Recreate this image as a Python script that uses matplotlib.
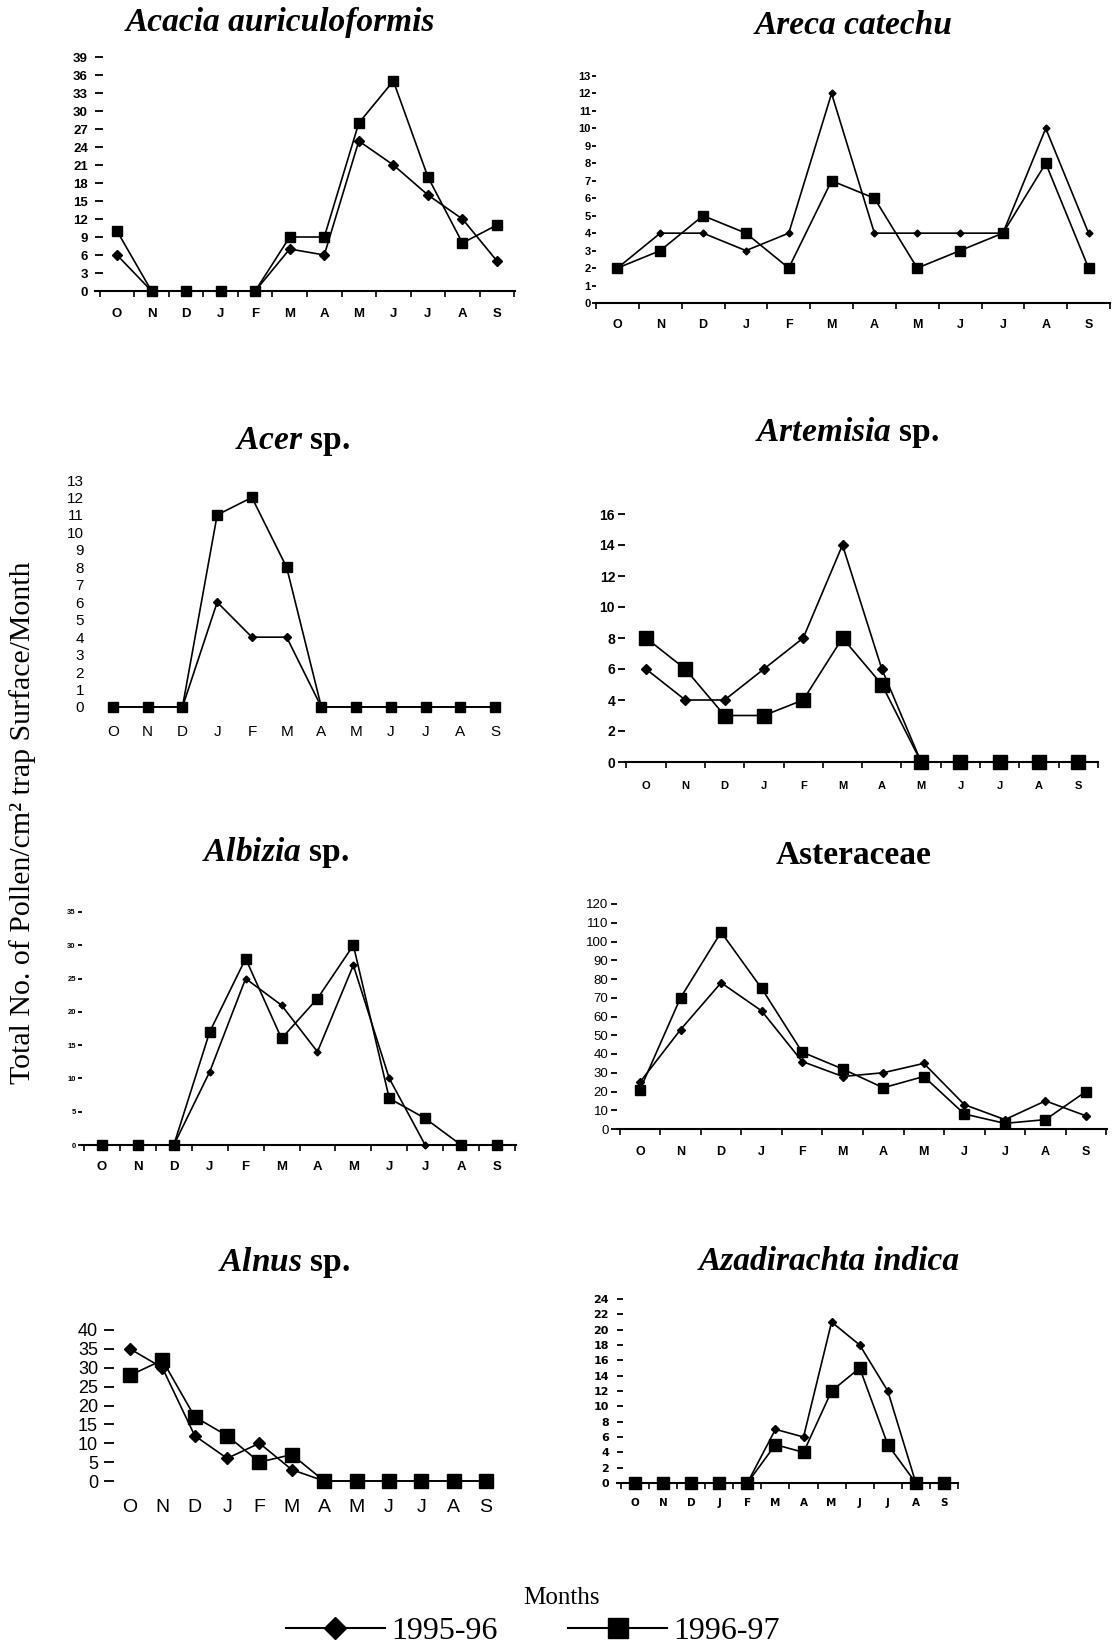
import matplotlib
matplotlib.use('Agg')
import matplotlib.pyplot as plt
from matplotlib.lines import Line2D
from matplotlib import font_manager

# canvas size in pixels (dpi 100)
W, H = 1119, 1650

MONTHS = ['O', 'N', 'D', 'J', 'F', 'M', 'A', 'M', 'J', 'J', 'A', 'S']

# pollen counts per month
ACACIA_9596 = [6, 0, 0, 0, 0, 7, 6, 25, 21, 16, 12, 5]
ACACIA_9697 = [10, 0, 0, 0, 0, 9, 9, 28, 35, 19, 8, 11]

ARECA_9596 = [2, 4, 4, 3, 4, 12, 4, 4, 4, 4, 10, 4]
ARECA_9697 = [2, 3, 5, 4, 2, 7, 6, 2, 3, 4, 8, 2]

ACER_9596 = [0, 0, 0, 6, 4, 4, 0, 0, 0, 0, 0, 0]
ACER_9697 = [0, 0, 0, 11, 12, 8, 0, 0, 0, 0, 0, 0]

ARTEMISIA_9596 = [6, 4, 4, 6, 8, 14, 6, 0, 0, 0, 0, 0]
ARTEMISIA_9697 = [8, 6, 3, 3, 4, 8, 5, 0, 0, 0, 0, 0]

ALBIZIA_9596 = [0, 0, 0, 11, 25, 21, 14, 27, 10, 0, 0, 0]
ALBIZIA_9697 = [0, 0, 0, 17, 28, 16, 22, 30, 7, 4, 0, 0]

ASTERACEAE_9596 = [25, 53, 78, 63, 36, 28, 30, 35, 13, 5, 15, 7]
ASTERACEAE_9697 = [21, 70, 105, 75, 41, 32, 22, 28, 8, 3, 5, 20]

ALNUS_9596 = [35, 30, 12, 6, 10, 3, 0, 0, 0, 0, 0, 0]
ALNUS_9697 = [28, 32, 17, 12, 5, 7, 0, 0, 0, 0, 0, 0]

AZADIRACHTA_9596 = [0, 0, 0, 0, 0, 7, 6, 21, 18, 12, 0, 0]
AZADIRACHTA_9697 = [0, 0, 0, 0, 0, 5, 4, 12, 15, 5, 0, 0]

ACACIA_YTICKS = list(range(0, 40, 3))
ARECA_YTICKS = list(range(0, 14))
ACER_YTICKS = list(range(0, 14))
ARTEMISIA_YTICKS = list(range(0, 17, 2))
ALBIZIA_YTICKS = list(range(0, 36, 5))
ASTERACEAE_YTICKS = list(range(0, 121, 10))
ALNUS_YTICKS = list(range(0, 41, 5))
AZADIRACHTA_YTICKS = list(range(0, 25, 2))

YEARS = ['1995-96', '1996-97']

names = {f.name for f in font_manager.fontManager.ttflist}
NARROW = 'Liberation Sans Narrow' if 'Liberation Sans Narrow' in names else 'Liberation Sans'
SERIF = 'Liberation Serif'

plt.rcParams['mathtext.fontset'] = 'custom'
plt.rcParams['mathtext.it'] = 'Liberation Serif:italic:bold'
plt.rcParams['mathtext.rm'] = 'Liberation Serif:bold'


def px2pt(px):
    return px * 72 / 100


def draw_panel(fig, d95, d96, yticks, ymax, c):
    left = c['x_left'] / W
    bottom = 1 - c['y0'] / H
    ax = fig.add_axes([left, bottom, (c['x_right'] - c['x_left']) / W, (c['y0'] - c['ytop']) / H])
    ppm = (c['x_S'] - c['x_O']) / 11
    ax.set_xlim((c['x_left'] - c['x_O']) / ppm, (c['x_right'] - c['x_O']) / ppm)
    ax.set_ylim(0, ymax)

    x = list(range(len(MONTHS)))
    ax.plot(x, d95, color='black', lw=1.2, marker='D', ms=c['ms_d'], clip_on=False, zorder=3)
    ax.plot(x, d96, color='black', lw=1.2, marker='s', ms=c['ms_s'], clip_on=False, zorder=4)

    for s in ['top', 'right', 'left']:
        ax.spines[s].set_visible(False)
    ax.spines['bottom'].set_visible(c['spine'])
    ax.spines['bottom'].set_linewidth(1.5)

    # months
    ax.set_xticks(x)
    ax.set_xticklabels(MONTHS, fontfamily=c['xfam'], fontweight=c['xweight'], fontsize=c['xfs'])
    em = c['xfs'] * 100 / 72
    ax.tick_params(axis='x', which='major', length=0, pad=px2pt(c['month_y'] - c['y0'] - 0.547 * em))
    if c['spine']:
        ax.set_xticks([i - 0.5 for i in range(13)], minor=True)
        ax.tick_params(axis='x', which='minor', length=4, width=1.2, direction='out')

    ax.set_yticks(yticks)
    ax.set_yticklabels([str(v) for v in yticks], fontfamily=c['yfam'], fontweight=c['yweight'], fontsize=c['yfs'])
    ax.tick_params(axis='y', length=c['ylen'], width=1.3, direction=c['ydir'], pad=px2pt(c['ypad']))

    fig.text(c['title_x'] / W, 1 - c['title_y'] / H, c['title'], ha='center', va='center',
             fontfamily=SERIF, fontweight='bold', fontstyle=c['tstyle'], fontsize=24)
    return ax


def main():
    fig = plt.figure(figsize=(W / 100, H / 100), dpi=100)

    panels = [
        (ACACIA_9596, ACACIA_9697, ACACIA_YTICKS, 39,
         dict(title='Acacia auriculoformis', tstyle='italic', title_x=280, title_y=23,
              x_left=95, x_right=515, x_O=117, x_S=497, y0=291, ytop=57, month_y=315,
              spine=True, ydir='in', ylen=6, ypad=7, yfam=NARROW, yweight='bold', yfs=9.5,
              xfam='Liberation Sans', xweight='bold', xfs=9.5, ms_s=7, ms_d=5)),
        (ARECA_9596, ARECA_9697, ARECA_YTICKS, 13,
         dict(title='Areca catechu', tstyle='italic', title_x=854, title_y=25,
              x_left=596, x_right=1110, x_O=616, x_S=1095, y0=303, ytop=76, month_y=326,
              spine=True, ydir='out', ylen=3, ypad=1, yfam=NARROW, yweight='bold', yfs=8,
              xfam='Liberation Sans', xweight='bold', xfs=9, ms_s=6.5, ms_d=3.5)),
        (ACER_9596, ACER_9697, ACER_YTICKS, 13,
         dict(title=r'$Acer$ sp.', tstyle='normal', title_x=293, title_y=442,
              x_left=96, x_right=512, x_O=113, x_S=495, y0=707, ytop=480, month_y=733,
              spine=False, ydir='out', ylen=0, ypad=12, yfam=NARROW, yweight='normal', yfs=11,
              xfam='Liberation Sans', xweight='normal', xfs=11, ms_s=7.5, ms_d=4)),
        (ARTEMISIA_9596, ARTEMISIA_9697, ARTEMISIA_YTICKS, 16,
         dict(title=r'$Artemisia$ sp.', tstyle='normal', title_x=847, title_y=433,
              x_left=625, x_right=1098, x_O=646, x_S=1079, y0=762, ytop=514, month_y=787,
              spine=True, ydir='out', ylen=5, ypad=3, yfam='Liberation Sans', yweight='bold', yfs=10,
              xfam='Liberation Sans', xweight='bold', xfs=8, ms_s=10, ms_d=5.5)),
        (ALBIZIA_9596, ALBIZIA_9697, ALBIZIA_YTICKS, 35,
         dict(title=r'$Albizia$ sp.', tstyle='normal', title_x=275, title_y=853,
              x_left=82, x_right=516, x_O=102, x_S=497, y0=1145, ytop=912, month_y=1168,
              spine=True, ydir='out', ylen=3, ypad=2, yfam='Liberation Sans', yweight='bold', yfs=5.5,
              xfam='Liberation Sans', xweight='bold', xfs=9.5, ms_s=6.5, ms_d=3.5)),
        (ASTERACEAE_9596, ASTERACEAE_9697, ASTERACEAE_YTICKS, 120,
         dict(title='Asteraceae', tstyle='normal', title_x=854, title_y=855,
              x_left=617, x_right=1107, x_O=640, x_S=1086, y0=1129, ytop=904, month_y=1153,
              spine=True, ydir='out', ylen=4, ypad=3, yfam=NARROW, yweight='normal', yfs=9.5,
              xfam='Liberation Sans', xweight='bold', xfs=9, ms_s=7.5, ms_d=4.5)),
        (ALNUS_9596, ALNUS_9697, ALNUS_YTICKS, 40,
         dict(title=r'$Alnus$ sp.', tstyle='normal', title_x=284, title_y=1263,
              x_left=104, x_right=500, x_O=130, x_S=486, y0=1481, ytop=1330, month_y=1510,
              spine=False, ydir='in', ylen=7, ypad=6, yfam=NARROW, yweight='normal', yfs=13,
              xfam='Liberation Sans', xweight='normal', xfs=14, ms_s=9.5, ms_d=6)),
        (AZADIRACHTA_9596, AZADIRACHTA_9697, AZADIRACHTA_YTICKS, 24,
         dict(title='Azadirachta indica', tstyle='italic', title_x=829, title_y=1262,
              x_left=617, x_right=958, x_O=635, x_S=944, y0=1483, ytop=1299, month_y=1504,
              spine=True, ydir='in', ylen=4, ypad=8, yfam='DejaVu Sans', yweight='bold', yfs=8,
              xfam='DejaVu Sans', xweight='bold', xfs=7.5, ms_s=8, ms_d=4.5)),
    ]
    for d95, d96, yt, ymax, cfg in panels:
        draw_panel(fig, d95, d96, yt, ymax, cfg)

    fig.text(23 / W, 1 - 823 / H, 'Total No. of Pollen/cm\u00b2 trap Surface/Month', rotation=90,
             ha='center', va='center', fontfamily=SERIF, fontsize=21.5)
    fig.text(561 / W, 1 - 1598 / H, 'Months', ha='center', va='center', fontfamily=SERIF, fontsize=18)

    handles = [Line2D([], [], color='black', lw=1.5, marker='D', ms=11),
               Line2D([], [], color='black', lw=1.5, marker='s', ms=14)]
    fig.legend(handles, YEARS, loc='center', bbox_to_anchor=(533 / W, 1 - 1631 / H), ncol=2,
               frameon=False, prop={'family': SERIF, 'size': 23}, handlelength=3.1,
               handletextpad=0.2, columnspacing=2.2, borderpad=0, borderaxespad=0)

    plt.savefig('out.png', dpi=100)


if __name__ == "__main__":
    main()
